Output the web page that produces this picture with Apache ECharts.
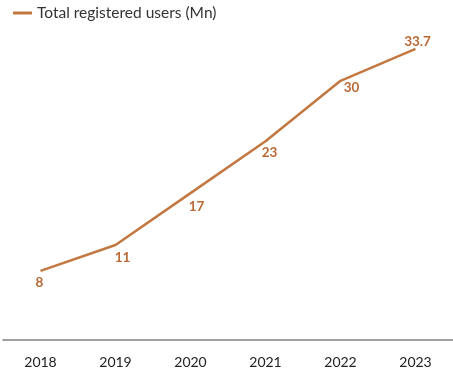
<!DOCTYPE html>
<html>
<head>
<meta charset="utf-8">
<script src="https://cdn.jsdelivr.net/npm/echarts@6/dist/echarts.min.js"></script>
<style>html,body{margin:0;padding:0;background:#fff}#c{width:453px;height:370px}</style>
</head>
<body>
<div id="c"></div>
<script>
const categories = ['2018', '2019', '2020', '2021', '2022', '2023'];
const users = [8, 11, 17, 23, 30, 33.7];
const labelText = ['8', '11', '17', '23', '30', '33.7'];
const seriesName = 'Total registered users (Mn)';

const labelPlace = [
  { position: 'bottom', offset: [-1, 0] },
  { position: 'bottom', offset: [7, 1] },
  { position: 'bottom', offset: [6, 1] },
  { position: 'bottom', offset: [4, -1] },
  { position: 'bottom', offset: [11, -5] },
  { position: 'top', offset: [2, 5] }
];

const chart = echarts.init(document.getElementById('c'));
chart.setOption({
  animation: false,
  legend: {
    left: 13, top: 5, padding: 0,
    icon: 'rect', itemWidth: 19, itemHeight: 3, itemGap: 10,
    textStyle: { fontFamily: 'Lato', fontSize: 15.5, color: '#333' },
    data: [seriesName]
  },
  grid: { left: 3, right: 0, top: 37.6, bottom: 30, containLabel: false },
  xAxis: {
    type: 'category', data: categories, boundaryGap: true,
    axisTick: { show: false },
    axisLine: { lineStyle: { color: '#808080', width: 1.5 } },
    axisLabel: { margin: 15, fontFamily: 'Lato', fontSize: 14, color: '#222' }
  },
  yAxis: {
    type: 'value', min: 0, max: 35, show: false,
    splitLine: { show: false }
  },
  series: [{
    name: seriesName, type: 'line',
    symbol: 'circle', symbolSize: 0.1, showSymbol: true,
    lineStyle: { color: '#c27840', width: 2.5 },
    itemStyle: { color: '#c27840' },
    label: {
      show: true, fontFamily: 'Lato', fontSize: 13.5, fontWeight: 'bold', color: '#b96a36'
    },
    data: users.map((v, i) => ({
      value: v,
      label: Object.assign({ formatter: labelText[i] }, labelPlace[i])
    }))
  }]
});
</script>
</body>
</html>
